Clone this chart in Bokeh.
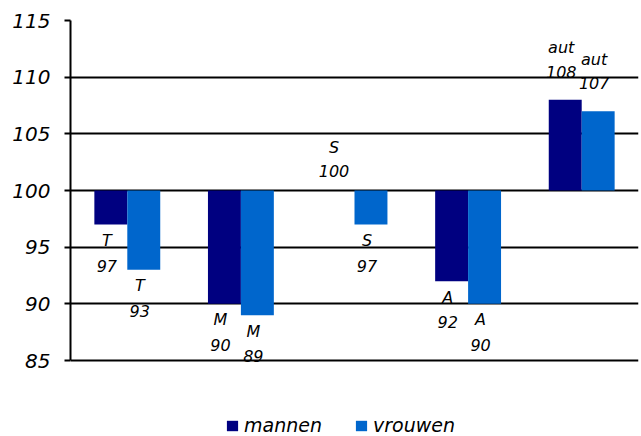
from bokeh.plotting import figure
from bokeh.models import ColumnDataSource, Legend, LegendItem, FixedTicker, Range1d
from bokeh.transform import dodge
from bokeh.core.properties import value
from bokeh.embed import file_html
from bokeh.resources import INLINE

categories = ["T", "M", "S", "A", "aut"]
mannen = [97, 90, 100, 92, 108]
vrouwen = [93, 89, 97, 90, 107]
series_names = ["mannen", "vrouwen"]
series_colors = ["#000080", "#0066CC"]
baseline = 100
y_ticks = [85, 90, 95, 100, 105, 110, 115]
y_min, y_max = 85, 115

FONT = "DejaVu Sans"

W, H = 640, 436
TOP, LEFT, RIGHT = 20, 70, 2
AXIS_PX = 340  # pixel height of the 85..115 span
frame_h = H - TOP
y_start = y_max - (y_max - y_min) * frame_h / AXIS_PX

p = figure(x_range=categories, y_range=Range1d(y_start, y_max), width=W, height=H,
           output_backend="svg", toolbar_location=None,
           min_border_left=LEFT, min_border_right=RIGHT, min_border_top=TOP, min_border_bottom=0)
p.outline_line_color = None
p.background_fill_color = "white"
p.border_fill_color = "white"

p.xaxis.visible = False
p.xgrid.grid_line_color = None
p.ygrid.grid_line_color = "black"
p.ygrid.grid_line_width = 2
p.yaxis.bounds = (y_min, y_max)
p.yaxis.ticker = FixedTicker(ticks=y_ticks)
p.yaxis.axis_line_color = "black"
p.yaxis.axis_line_width = 2
p.yaxis.major_tick_line_color = "black"
p.yaxis.major_tick_line_width = 2
p.yaxis.major_tick_out = 6
p.yaxis.major_tick_in = 0
p.yaxis.minor_tick_line_color = None
p.yaxis.major_label_standoff = 14
p.yaxis.major_label_text_font = FONT
p.yaxis.major_label_text_font_style = "italic"
p.yaxis.major_label_text_font_size = "20px"
p.yaxis.major_label_text_color = "black"

width = 0.29
offsets = [-width / 2, width / 2]
items = []
for name, vals, color, off in zip(series_names, [mannen, vrouwen], series_colors, offsets):
    name_off = []
    val_off = []
    for v in vals:
        if v < baseline:
            name_off.append(16); val_off.append(41)
        elif v == baseline:
            name_off.append(-43); val_off.append(-20)
        else:
            name_off.append(-52); val_off.append(-28)
    src = ColumnDataSource(dict(cat=categories, v=vals, base=[baseline] * len(vals),
                                val_txt=[str(v) for v in vals],
                                name_off=name_off, val_off=val_off))
    r = p.vbar(x=dodge("cat", off, range=p.x_range), top="v", bottom="base", width=width,
               source=src, fill_color=color, line_color=None)
    items.append(LegendItem(label=name, renderers=[r]))
    for col, offcol in (("cat", "name_off"), ("val_txt", "val_off")):
        p.text(x=dodge("cat", off, range=p.x_range), y="v", text=col, source=src,
               y_offset=offcol, x_offset=-4, text_align="center", text_baseline="middle",
               text_font=value(FONT), text_font_style="italic", text_font_size="16px",
               text_color="black")

legend = Legend(items=items, orientation="horizontal", location=(155, 0))
legend.border_line_color = None
legend.background_fill_alpha = 0
legend.label_text_font = FONT
legend.label_text_font_style = "italic"
legend.label_text_font_size = "19px"
legend.label_text_color = "black"
legend.glyph_width = 14
legend.glyph_height = 13
legend.label_standoff = 5
legend.spacing = 32
legend.padding = 0
legend.margin = 0
p.add_layout(legend)

open("out.html", "w").write(file_html(p, INLINE))
